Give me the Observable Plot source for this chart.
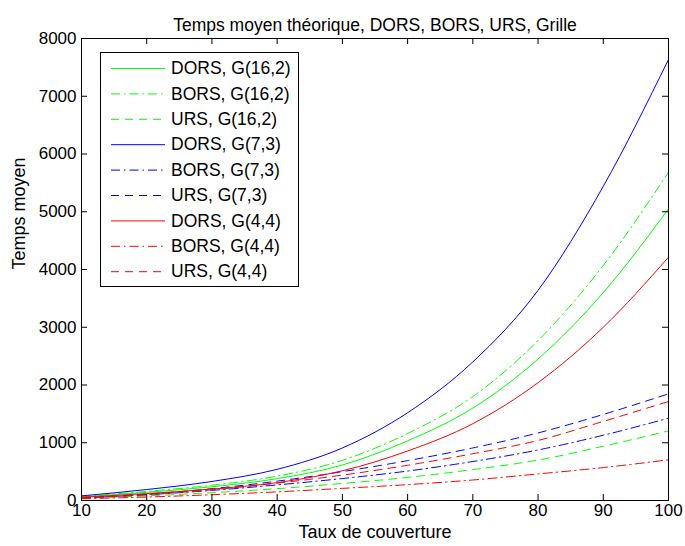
<!DOCTYPE html>
<html><head><meta charset="utf-8">
<script src="https://cdn.jsdelivr.net/npm/d3@7"></script>
<script src="https://cdn.jsdelivr.net/npm/@observablehq/plot@0.6"></script>
<style>
body{margin:0;background:#fff}
#chart{width:685px;height:546px}
</style>
</head><body><div id="chart"></div>
<script>
// Taux de couverture
const taux = [10, 20, 30, 40, 50, 60, 70, 80, 90, 100];
// Temps moyen per series
const dorsG16_2 = [64, 142, 238, 378, 615, 1033, 1600, 2450, 3600, 5050];
const borsG16_2 = [70, 158, 265, 422, 695, 1160, 1800, 2770, 4070, 5685];
const ursG16_2  = [40, 80, 135, 205, 295, 400, 535, 700, 940, 1206];
const dorsG7_3  = [80, 190, 330, 540, 910, 1520, 2400, 3640, 5440, 7636];
const borsG7_3  = [45, 100, 175, 270, 380, 510, 675, 875, 1130, 1425];
const ursG7_3   = [50, 110, 205, 335, 500, 690, 910, 1170, 1490, 1847];
const dorsG4_4  = [56, 120, 198, 310, 515, 857, 1330, 2040, 3000, 4213];
const borsG4_4  = [30, 60, 100, 150, 210, 275, 355, 460, 570, 704];
const ursG4_4   = [45, 100, 185, 300, 440, 610, 810, 1040, 1370, 1714];

const seriesNames = ["DORS, G(16,2)", "BORS, G(16,2)", "URS, G(16,2)",
                     "DORS, G(7,3)", "BORS, G(7,3)", "URS, G(7,3)",
                     "DORS, G(4,4)", "BORS, G(4,4)", "URS, G(4,4)"];
const seriesValues = [dorsG16_2, borsG16_2, ursG16_2, dorsG7_3, borsG7_3, ursG7_3, dorsG4_4, borsG4_4, ursG4_4];

const xTicks = [10, 20, 30, 40, 50, 60, 70, 80, 90, 100];
const yTicks = [0, 1000, 2000, 3000, 4000, 5000, 6000, 7000, 8000];

const titleText = "Temps moyen théorique, DORS, BORS, URS, Grille";
const xLabel = "Taux de couverture";
const yLabel = "Temps moyen";

// styles
const colors = ["#00ff00", "#00ff00", "#00ff00", "#0000ff", "#0000ff", "#0000ff", "#ff0000", "#ff0000", "#ff0000"];
const DASH = "8,6", DASHDOT = "9,4,1.5,4";
const dashes = [null, DASHDOT, DASH, null, DASHDOT, DASH, null, DASHDOT, DASH];

const W = 685, H = 546, ML = 81, MR = 17, MT = 38, MB = 46;
const PW = W - ML - MR, PH = H - MT - MB;
const FONT = "'Liberation Sans', Arial, Helvetica, sans-serif";
const FS = 17;
const FL = 17.5;

const lineMarks = seriesValues.map((vals, i) =>
  Plot.line(taux, {x: d => d, y: (d, j) => vals[j], stroke: colors[i], strokeWidth: 1,
    strokeDasharray: dashes[i] || undefined, curve: "monotone-x"}));

const chart = Plot.plot({
  width: W, height: H,
  marginLeft: ML, marginRight: MR, marginTop: MT, marginBottom: MB,
  style: {fontFamily: FONT, fontSize: FS + "px", background: "white", color: "black", overflow: "visible"},
  x: {domain: [10, 100]},
  y: {domain: [0, 8000]},
  marks: [
    ...lineMarks,
    // inward ticks
    Plot.tickX(xTicks, {x: d => d, insetTop: PH - 6, stroke: "black"}),
    Plot.tickX(xTicks, {x: d => d, insetBottom: PH - 6, stroke: "black"}),
    Plot.tickY(yTicks, {y: d => d, insetRight: PW - 6, stroke: "black"}),
    Plot.tickY(yTicks, {y: d => d, insetLeft: PW - 6, stroke: "black"}),
    Plot.axisX(xTicks, {anchor: "bottom", tickSize: 0, tickPadding: 3, label: null, fontSize: FS}),
    Plot.axisY(yTicks, {anchor: "left", tickSize: 0, tickPadding: 5, label: null, fontSize: FS, tickFormat: d => String(d)}),
    Plot.frame({stroke: "black"}),
    Plot.text([xLabel], {frameAnchor: "bottom", dy: 37, fontSize: 18, fill: "black"}),
    Plot.text([yLabel], {frameAnchor: "left", rotate: -90, dx: -62, fontSize: 18, fill: "black"}),
    Plot.text([titleText], {frameAnchor: "top", dy: -20, fontSize: FL, fill: "black"})
  ]
});
document.getElementById("chart").appendChild(chart);

// legend box drawn into the plot's svg
const svg = d3.select(chart.tagName.toLowerCase() === "svg" ? chart : chart.querySelector("svg"));
const lg = svg.append("g").attr("class", "legend").attr("text-anchor", "start");
const LX = 100, LY = 52, LW = 198, LH = 234, ROW = 25.4, FIRST = 68;
lg.append("rect").attr("x", LX + 0.5).attr("y", LY + 0.5).attr("width", LW).attr("height", LH)
  .attr("fill", "white").attr("stroke", "black");
seriesNames.forEach((name, i) => {
  const y = FIRST + i * ROW;
  lg.append("line").attr("x1", 111).attr("x2", 165).attr("y1", y + 0.5).attr("y2", y + 0.5)
    .attr("stroke", colors[i]).attr("stroke-width", 1)
    .attr("stroke-dasharray", dashes[i] || null);
  lg.append("text").attr("x", 171).attr("y", y).attr("dy", "0.35em")
    .attr("text-anchor", "start")
    .attr("font-family", FONT).attr("font-size", FL).attr("fill", "black").text(name);
});
</script>
</body></html>
